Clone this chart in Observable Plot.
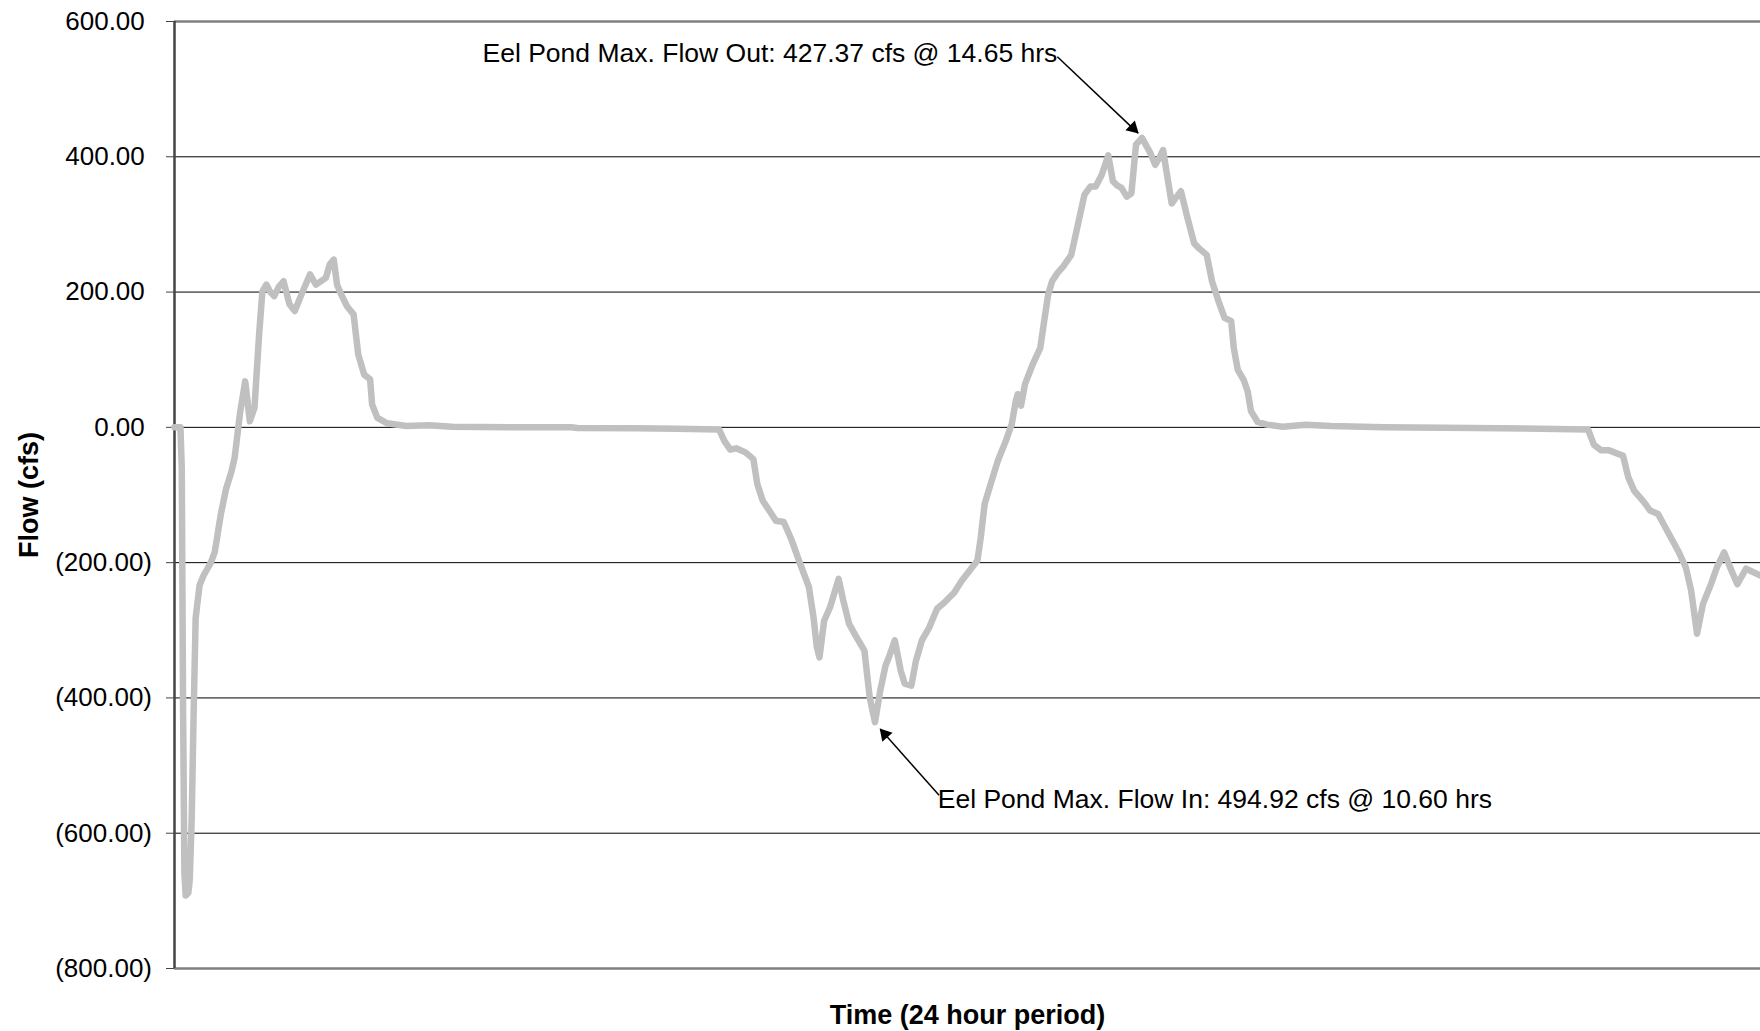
<!DOCTYPE html>
<html>
<head>
<meta charset="utf-8">
<script src="https://cdn.jsdelivr.net/npm/d3@7"></script>
<script src="https://cdn.jsdelivr.net/npm/@observablehq/plot@0.6"></script>
<style>
  html, body { margin: 0; padding: 0; background: #fff; }
  #chart svg { display: block; }
</style>
</head>
<body>
<div id="chart"></div>
<script>
// Time in hours (x) and flow in cfs (y)
const hours = [0.00,0.09,0.11,0.13,0.15,0.17,0.21,0.23,0.26,0.29,0.32,0.38,0.44,0.55,0.61,0.70,0.78,0.86,0.91,0.99,
  1.07,1.14,1.21,1.28,1.33,1.39,1.45,1.51,1.58,1.65,1.74,1.82,1.94,2.05,2.14,2.29,2.35,2.41,2.46,2.52,
  2.61,2.71,2.78,2.87,2.96,2.99,3.07,3.22,3.51,3.85,4.20,4.60,5.20,6.00,6.10,7.00,7.60,8.24,8.32,8.41,
  8.50,8.64,8.76,8.82,8.90,9.02,9.10,9.22,9.34,9.45,9.60,9.67,9.72,9.76,9.83,9.92,10.05,10.12,10.21,10.32,
  10.44,10.52,10.60,10.68,10.76,10.81,10.90,10.99,11.05,11.15,11.22,11.31,11.42,11.54,11.65,11.80,11.91,12.03,12.15,12.20,
  12.26,12.35,12.46,12.58,12.67,12.73,12.76,12.81,12.87,12.99,13.10,13.16,13.22,13.28,13.36,13.45,13.57,13.68,13.77,13.86,
  13.94,14.03,14.13,14.20,14.26,14.33,14.41,14.48,14.55,14.64,14.77,14.84,14.90,14.96,15.02,15.09,15.15,15.23,15.33,15.43,
  15.50,15.62,15.70,15.80,15.89,15.99,16.03,16.09,16.18,16.24,16.29,16.39,16.53,16.77,17.12,17.50,18.30,19.65,20.66,21.39,
  21.48,21.59,21.71,21.92,22.00,22.09,22.24,22.33,22.45,22.60,22.75,22.87,22.95,23.04,23.13,23.25,23.34,23.45,23.54,23.65,
  23.78,24.00];
const flows = [0,0,-60,-420,-660,-692,-688,-670,-580,-420,-282,-233,-219,-200,-184,-129,-91,-66,-45,20,
  68,9,29,137,201,211,200,194,208,216,182,172,201,226,211,221,241,248,211,197,
  179,167,108,78,71,34,14,6,2,3,1,0.5,0,0,-1,-1.5,-2,-3,-20,-33,
  -31,-37,-47,-84,-108,-126,-138,-140,-167,-197,-236,-281,-325,-340,-286,-266,-224,-256,-291,-310,
  -330,-399,-436,-389,-352,-340,-315,-360,-379,-382,-345,-315,-296,-268,-259,-244,-227,-212,-197,-163,
  -113,-84,-49,-20,5,39,49,32,64,94,117,157,196,216,228,238,255,304,344,356,
  356,373,402,364,358,354,341,346,418,428,405,388,398,410,373,331,339,349,309,272,
  265,255,216,186,162,157,117,85,70,53,24,8,4,1,4,2,0,-1,-2,-3,
  -26,-34,-34,-42,-74,-94,-111,-123,-128,-155,-182,-207,-241,-305,-261,-232,-207,-185,-207,-232,
  -209,-219];

const yTicks = [600, 400, 200, 0, -200, -400, -600, -800];
const gridValues = [400, 200, 0, -200, -400, -600];
const borderValues = [600, -800];

const yLabel = "Flow (cfs)";
const xLabel = "Time (24 hour period)";

// Annotations: text anchor point, arrow start and arrow tip (hours, cfs)
const noteOutText = "Eel Pond Max. Flow Out: 427.37 cfs @ 14.65 hrs";
const noteOutPos = {x: 13.36, y: 553};
const noteOutArrow = {x1: 13.36, y1: 548, x2: 14.58, y2: 435};
const noteInText = "Eel Pond Max. Flow In: 494.92 cfs @ 10.60 hrs";
const noteInPos = {x: 11.55, y: -550};
const noteInArrow = {x1: 11.57, y1: -544, x2: 10.68, y2: -446};

const data = hours.map((t, i) => ({t, v: flows[i]}));
// accounting style: negatives in parentheses, positives padded like "_)"
const fmt = d => d < 0 ? `(${Math.abs(d).toFixed(2)})` : d.toFixed(2) + "\u2008";
const FONT = "'Liberation Sans', Arial, Helvetica, sans-serif";

const chart = Plot.plot({
  width: 1760,
  height: 1031,
  marginLeft: 174,
  marginRight: 0,
  marginTop: 21,
  marginBottom: 63,
  style: {fontFamily: FONT, color: "#000", background: "#fff", overflow: "visible"},
  x: {domain: [0, 24], axis: null},
  y: {domain: [-800, 600], axis: null},
  marks: [
    Plot.ruleY(gridValues, {stroke: "#000", strokeWidth: 1}),
    Plot.ruleY(borderValues, {stroke: "#808080", strokeWidth: 2.5}),
    Plot.axisY({ticks: yTicks, tickFormat: fmt, tickSize: 8, tickPadding: 14.5, fontSize: 26, label: null, stroke: "#444"}),
    Plot.ruleX([0], {stroke: "#444", strokeWidth: 2.5}),
    Plot.line(data, {x: "t", y: "v", stroke: "#c0c0c0", strokeWidth: 6.5, strokeLinejoin: "round", strokeLinecap: "round"}),
    // annotation arrows
    Plot.link([noteOutArrow], {x1: "x1", y1: "y1", x2: "x2", y2: "y2", stroke: "#000", strokeWidth: 1.5}),
    Plot.dot([noteOutArrow], {x: "x2", y: "y2", symbol: "triangle2", r: 6.5, fill: "#000", rotate: 133.5, dx: -5, dy: -5}),
    Plot.link([noteInArrow], {x1: "x1", y1: "y1", x2: "x2", y2: "y2", stroke: "#000", strokeWidth: 1.5}),
    Plot.dot([noteInArrow], {x: "x2", y: "y2", symbol: "triangle2", r: 6.5, fill: "#000", rotate: -41, dx: 4.6, dy: 5.3}),
    // annotation texts
    Plot.text([noteOutPos], {x: "x", y: "y", text: () => noteOutText, textAnchor: "end", fontSize: 26.5, fill: "#000"}),
    Plot.text([noteInPos], {x: "x", y: "y", text: () => noteInText, textAnchor: "start", fontSize: 26.5, fill: "#000"}),
    // axis titles
    Plot.text([yLabel], {frameAnchor: "left", text: d => d, rotate: -90, dx: -145, textAnchor: "middle", lineAnchor: "middle", fontSize: 27, fontWeight: "bold", fill: "#000"}),
    Plot.text([xLabel], {frameAnchor: "bottom", text: d => d, dy: 47, textAnchor: "middle", lineAnchor: "middle", fontSize: 27, fontWeight: "bold", fill: "#000"})
  ]
});
document.getElementById("chart").appendChild(chart);
</script>
</body>
</html>
